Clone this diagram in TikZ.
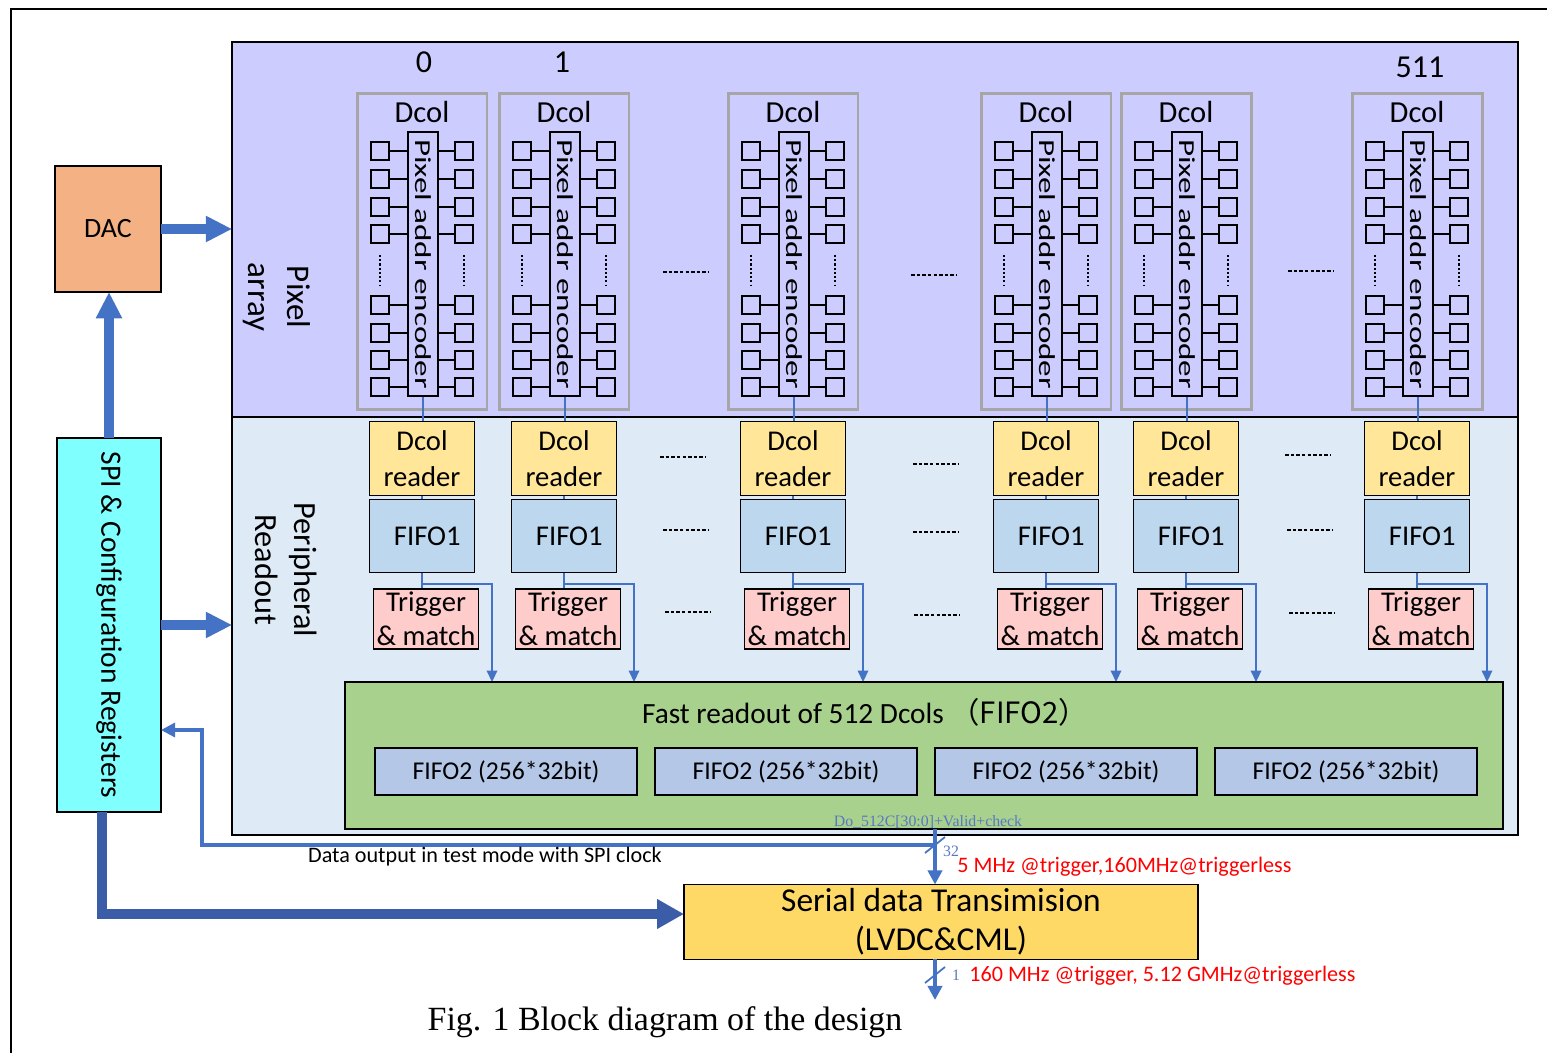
\documentclass[tikz,border=0pt]{standalone}
\usepackage{fontspec}
\setmainfont{Carlito}
\newfontfamily\capfont{Liberation Serif}
\newfontfamily\cjk{Noto Sans CJK SC}
\usepackage{graphicx}
\usepackage{xcolor}
\usepackage{tikz}
\usetikzlibrary{positioning}
\usetikzlibrary{arrows.meta}
\usetikzlibrary{calc}

\definecolor{pixbg}{HTML}{CCCCFF}
\definecolor{perbg}{HTML}{DEEBF7}
\definecolor{dcolgray}{HTML}{A6A6A6}
\definecolor{readfill}{HTML}{FFE699}
\definecolor{fifofill}{HTML}{BDD7EE}
\definecolor{trigfill}{HTML}{FFCCCC}
\definecolor{fastfill}{HTML}{A9D18E}
\definecolor{fifotwofill}{HTML}{B4C7E7}
\definecolor{dacfill}{HTML}{F4B183}
\definecolor{spifill}{HTML}{80FFFF}
\definecolor{serfill}{HTML}{FFD966}
\definecolor{arrblue}{HTML}{4472C4}
\definecolor{darkblue}{HTML}{3B5DA8}
\definecolor{tagblue}{HTML}{5A78C0}

\tikzset{
  region/.style={draw=black, line width=0.8pt, inner sep=0pt, outer sep=0pt},
  dcolbox/.style={draw=dcolgray, line width=1.7pt, minimum width=2.6cm, minimum height=6.34cm, inner sep=0pt},
  encbox/.style={draw=black, line width=0.75pt, minimum width=0.6cm, minimum height=5.28cm, inner sep=0pt, font=\fontsize{13}{14}\selectfont},
  pixsq/.style={draw=black, line width=0.75pt, minimum size=0.36cm, inner sep=0pt},
  pixwire/.style={draw=black, line width=0.75pt},
  dotline/.style={draw=black, line width=0.8pt, dash pattern=on 1.2pt off 1.2pt},
  sepdash/.style={draw=black, line width=0.8pt, dash pattern=on 2pt off 1.2pt},
  readbox/.style={draw=black, line width=0.9pt, fill=readfill, minimum width=2.1cm, minimum height=1.48cm, inner sep=0pt, align=center, font=\fontsize{16.3}{20.5}\selectfont},
  fifobox/.style={draw=black, line width=0.9pt, fill=fifofill, minimum width=2.1cm, minimum height=1.46cm, inner sep=0pt, font=\fontsize{16.3}{20}\selectfont},
  trigbox/.style={draw=black, line width=0.9pt, fill=trigfill, minimum width=2.1cm, minimum height=1.2cm, inner sep=0pt, align=center, font=\fontsize{16.3}{19.3}\selectfont},
  fifotwo/.style={draw=black, line width=0.9pt, fill=fifotwofill, minimum width=5.24cm, minimum height=0.94cm, inner sep=0pt, font=\fontsize{14.6}{17}\selectfont},
  thinblue/.style={draw=arrblue, line width=0.6pt},
  branch/.style={draw=arrblue, line width=0.9pt, -{Triangle[length=6.5pt, width=6pt]}},
  fatarrow/.style={draw=arrblue, line width=6.2pt, -{Triangle[length=15pt, width=14pt]}},
  darkarrow/.style={draw=darkblue, line width=6.2pt, -{Triangle[length=15.4pt, width=16pt]}},
  midarrow/.style={draw=arrblue, line width=2.2pt, -{Triangle[length=8pt, width=8pt]}},
  testarrow/.style={draw=arrblue, line width=1.8pt, -{Triangle[length=8pt, width=8pt]}},
  tagfont/.style={text=tagblue, font=\capfont\fontsize{9}{10}\selectfont, inner sep=0pt},
  redlab/.style={text=red, font=\fontsize{12.6}{14}\selectfont, inner sep=0pt, anchor=west}
}

\begin{document}
\begin{tikzpicture}[x=0.02cm, y=-0.02cm]
\useasboundingbox (0,0) rectangle (1547,1053);

% outer frame
\draw[line width=1.1pt] (11,1053) -- (11,9) -- (1547,9);

% pixel array and periphery
\node[region, fill=pixbg, minimum width=25.72cm, minimum height=7.5cm] (pix) at (875,229.5) {};
\node[region, fill=perbg, minimum width=25.72cm, minimum height=8.36cm] (per) at (875,626) {};

\node[rotate=-90, align=center, font=\fontsize{18.8}{22}\selectfont] (pixlab) at (277,297) {Pixel\\array};
\node[rotate=-90, align=center, font=\fontsize{18.4}{22.5}\selectfont] (perlab) at (286,570) {Peripheral\\Readout};

\node[font=\fontsize{18.2}{20}\selectfont] (num0) at (424,62) {0};
\node[font=\fontsize{18.2}{20}\selectfont] (num1) at (562,62) {1};
\node[font=\fontsize{18.2}{20}\selectfont] (num511) at (1420,67) {511};

% double columns
\foreach \d [count=\i] in {357,499,728,981,1121,1352}{
  \node[dcolbox] (dc\i) at (\d+65,251.5) {};
  \node[font=\fontsize{17.4}{19}\selectfont] (dct\i) at (\d+65,112) {Dcol};
  \node[encbox] (enc\i) at (\d+66,264) {\rotatebox{-90}{\scalebox{1.45}[1]{Pixel addr encoder}}};
  \foreach \r [count=\k] in {151,179,207,234,305,333,360,387}{
    \node[pixsq] (pl\i\k) at (\d+23,\r) {};
    \node[pixsq] (pr\i\k) at (\d+107,\r) {};
    \draw[pixwire] (pl\i\k) -- (pl\i\k -| enc\i.west);
    \draw[pixwire] (pr\i\k) -- (pr\i\k -| enc\i.east);
  }
  \draw[dotline] (\d+23,255) -- (\d+23,285);
  \draw[dotline] (\d+107,255) -- (\d+107,285);

  \node[readbox] (rd\i) at (\d+65,458.5) {Dcol\\reader};
  \node[fifobox] (ff\i) at (\d+65,536) {\hspace{6pt}FIFO1};
  \node[trigbox] (tr\i) at (\d+69,619) {Trigger\\\& match};
  \coordinate (br\i) at (\d+135,682);

  \draw[thinblue] (enc\i.south) -- (enc\i.south |- rd\i.north);
  \draw[thinblue] (rd\i.south) -- (ff\i.north);
  \draw[thinblue] (ff\i.south) -- (ff\i.south |- tr\i.north);
  \draw[branch] (ff\i.south) -- ++(0,11) -| (br\i);
}

% dashes between columns
\foreach \x/\y in {686/272, 934/275, 1311/271, 683/457, 936/464, 1308/455,
                   686/530, 936/532, 1310/530, 688/612, 937/615, 1312/613}
  \draw[sepdash] (\x-23,\y) -- (\x+23,\y);

% fast readout
\node[region, draw=black, line width=0.9pt, fill=fastfill, minimum width=23.16cm, minimum height=2.94cm] (fast) at (924,755.5) {};
\node[font=\fontsize{16.7}{19}\selectfont] (fastlab) at (865,712) {Fast readout of 512 Dcols~\cjk{（}FIFO2\cjk{）}};
\foreach \x [count=\j] in {506,786,1066,1346}
  \node[fifotwo] (ft\j) at (\x,771.5) {FIFO2 (256*32bit)};

% DAC and SPI
\node[region, line width=0.9pt, fill=dacfill, minimum width=2.12cm, minimum height=2.52cm, font=\fontsize{15.9}{18}\selectfont] (dac) at (108,229) {DAC};
\node[region, line width=0.9pt, fill=spifill, minimum width=2.08cm, minimum height=7.48cm, font=\fontsize{16.8}{19}\selectfont] (spi) at (109,625) {\rotatebox{-90}{SPI \& Configuration Registers}};

% serial link
\node[region, line width=0.9pt, fill=serfill, minimum width=10.28cm, minimum height=1.5cm, align=center, font=\fontsize{19}{22.2}\selectfont] (ser) at (941,922) {Serial data Transimision\\(LVDC\&CML)};

% thick arrows
\draw[fatarrow] (dac.east) -- (dac.east -| pix.west);
\draw[fatarrow] (spi.north) -- (spi.north |- dac.south);
\draw[fatarrow] (spi.east) -- (spi.east -| per.west);
\draw[darkarrow] ([xshift=-0.14cm]spi.south) |- ([yshift=0.16cm]ser.west);

% data path
\coordinate (tap) at (935,845);
\coordinate (out) at (935,1000);
\draw[midarrow] (fast.south -| tap) -- (ser.north -| tap);
\draw[testarrow] (tap) -- (202,845) -- (202,730) -- (spi.east |- 202,730);
\draw[midarrow] (ser.south -| out) -- (out);
\draw[draw=arrblue, line width=1pt] (925,853) -- (945,837);
\draw[draw=arrblue, line width=1pt] (925,983) -- (945,967);

\node[tagfont] (dotag) at (928,822) {Do\_512C[30:0]+Valid+check};
\node[tagfont] (w32) at (951,851) {32};
\node[tagfont] (w1) at (956,975) {1};
\node[redlab] (frq1) at (957,867) {5 MHz @trigger,160MHz@triggerless};
\node[redlab] (frq2) at (969,976) {160 MHz @trigger, 5.12 GMHz@triggerless};
\node[font=\fontsize{12.6}{14}\selectfont] (testlab) at (485,857) {Data output in test mode with SPI clock};

% caption
\node[font=\capfont\fontsize{19.3}{22}\selectfont] (cap) at (665,1022) {Fig. 1 Block diagram of the design};
\end{tikzpicture}
\end{document}
